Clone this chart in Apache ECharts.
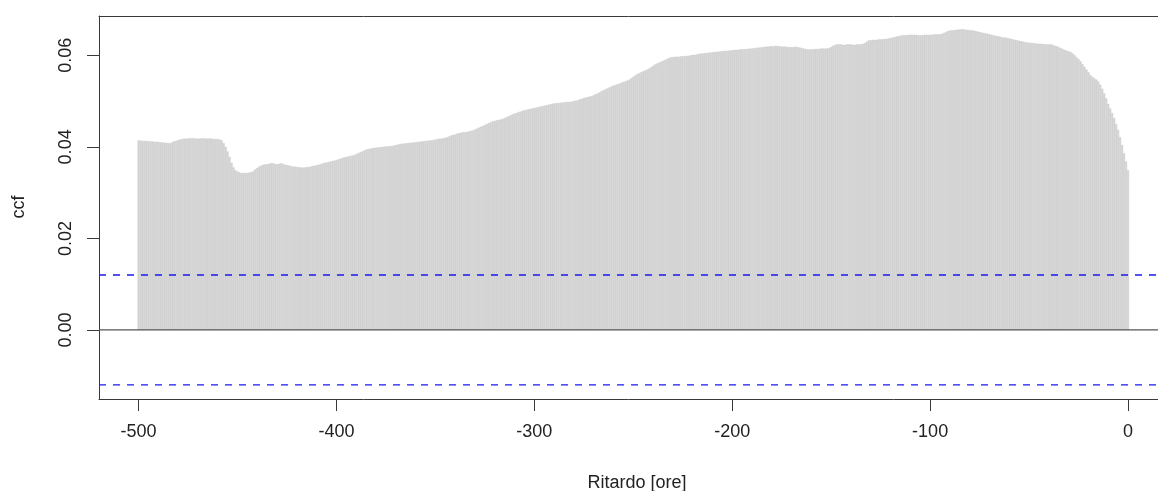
<!DOCTYPE html>
<html>
<head>
<meta charset="utf-8">
<script src="https://cdn.jsdelivr.net/npm/echarts@6/dist/echarts.min.js"></script>
<style>
  html, body { margin: 0; padding: 0; background: #fff; }
  #ccfChart { width: 1158px; height: 491px; }
</style>
</head>
<body>
<div id="ccfChart"></div>
<script>
// valori ccf, ritardi da -500 a 0
var ccfValues = [
  0.0414, 0.0414, 0.0413, 0.0413, 0.0413, 0.0412, 0.0412, 0.0412, 0.0411, 0.0411,
  0.0411, 0.0410, 0.0410, 0.0409, 0.0409, 0.0408, 0.0408, 0.0410, 0.0412, 0.0413,
  0.0415, 0.0416, 0.0417, 0.0418, 0.0418, 0.0418, 0.0419, 0.0419, 0.0419, 0.0418,
  0.0418, 0.0418, 0.0419, 0.0419, 0.0418, 0.0418, 0.0418, 0.0418, 0.0417, 0.0417,
  0.0417, 0.0416, 0.0414, 0.0408, 0.0400, 0.0390, 0.0378, 0.0365, 0.0355, 0.0349,
  0.0346, 0.0344, 0.0343, 0.0343, 0.0343, 0.0343, 0.0344, 0.0345, 0.0347, 0.0351,
  0.0354, 0.0357, 0.0359, 0.0361, 0.0362, 0.0362, 0.0363, 0.0364, 0.0364, 0.0363,
  0.0362, 0.0363, 0.0364, 0.0363, 0.0361, 0.0360, 0.0359, 0.0358, 0.0357, 0.0357,
  0.0356, 0.0356, 0.0355, 0.0355, 0.0355, 0.0356, 0.0356, 0.0357, 0.0358, 0.0359,
  0.0360, 0.0361, 0.0362, 0.0364, 0.0365, 0.0366, 0.0367, 0.0368, 0.0369, 0.0370,
  0.0371, 0.0373, 0.0374, 0.0376, 0.0377, 0.0378, 0.0379, 0.0380, 0.0381, 0.0382,
  0.0384, 0.0386, 0.0388, 0.0390, 0.0392, 0.0394, 0.0395, 0.0396, 0.0397, 0.0398,
  0.0398, 0.0399, 0.0399, 0.0400, 0.0400, 0.0401, 0.0401, 0.0402, 0.0402, 0.0403,
  0.0404, 0.0405, 0.0406, 0.0407, 0.0407, 0.0408, 0.0408, 0.0409, 0.0409, 0.0410,
  0.0410, 0.0411, 0.0411, 0.0412, 0.0412, 0.0413, 0.0413, 0.0414, 0.0414, 0.0415,
  0.0416, 0.0417, 0.0418, 0.0418, 0.0419, 0.0420, 0.0421, 0.0423, 0.0425, 0.0426,
  0.0427, 0.0429, 0.0430, 0.0431, 0.0432, 0.0432, 0.0433, 0.0434, 0.0435, 0.0436,
  0.0438, 0.0440, 0.0442, 0.0444, 0.0446, 0.0448, 0.0450, 0.0452, 0.0454, 0.0456,
  0.0457, 0.0458, 0.0459, 0.0460, 0.0461, 0.0463, 0.0465, 0.0467, 0.0469, 0.0471,
  0.0473, 0.0474, 0.0476, 0.0477, 0.0479, 0.0480, 0.0481, 0.0482, 0.0483, 0.0484,
  0.0485, 0.0486, 0.0487, 0.0488, 0.0489, 0.0490, 0.0491, 0.0492, 0.0493, 0.0494,
  0.0495, 0.0495, 0.0496, 0.0496, 0.0497, 0.0497, 0.0498, 0.0498, 0.0498, 0.0499,
  0.0500, 0.0501, 0.0502, 0.0504, 0.0505, 0.0507, 0.0508, 0.0509, 0.0510, 0.0511,
  0.0513, 0.0515, 0.0517, 0.0519, 0.0522, 0.0524, 0.0526, 0.0528, 0.0530, 0.0532,
  0.0534, 0.0535, 0.0537, 0.0538, 0.0540, 0.0542, 0.0543, 0.0545, 0.0547, 0.0550,
  0.0553, 0.0556, 0.0559, 0.0561, 0.0563, 0.0565, 0.0567, 0.0569, 0.0571, 0.0574,
  0.0577, 0.0580, 0.0582, 0.0584, 0.0586, 0.0588, 0.0590, 0.0592, 0.0594, 0.0596,
  0.0596, 0.0597, 0.0597, 0.0597, 0.0598, 0.0598, 0.0598, 0.0599, 0.0599, 0.0600,
  0.0601, 0.0601, 0.0602, 0.0603, 0.0604, 0.0604, 0.0605, 0.0605, 0.0606, 0.0606,
  0.0607, 0.0607, 0.0608, 0.0608, 0.0609, 0.0609, 0.0610, 0.0610, 0.0610, 0.0611,
  0.0611, 0.0612, 0.0612, 0.0612, 0.0613, 0.0613, 0.0613, 0.0614, 0.0614, 0.0615,
  0.0615, 0.0616, 0.0616, 0.0617, 0.0617, 0.0618, 0.0618, 0.0619, 0.0619, 0.0620,
  0.0620, 0.0620, 0.0621, 0.0620, 0.0620, 0.0619, 0.0619, 0.0619, 0.0618, 0.0618,
  0.0618, 0.0618, 0.0619, 0.0618, 0.0617, 0.0616, 0.0615, 0.0614, 0.0613, 0.0613,
  0.0613, 0.0613, 0.0614, 0.0614, 0.0614, 0.0615, 0.0615, 0.0615, 0.0615, 0.0616,
  0.0618, 0.0621, 0.0623, 0.0624, 0.0624, 0.0624, 0.0623, 0.0623, 0.0624, 0.0624,
  0.0624, 0.0623, 0.0623, 0.0624, 0.0624, 0.0624, 0.0625, 0.0627, 0.0630, 0.0633,
  0.0633, 0.0634, 0.0634, 0.0634, 0.0635, 0.0635, 0.0635, 0.0636, 0.0636, 0.0637,
  0.0638, 0.0639, 0.0640, 0.0641, 0.0642, 0.0643, 0.0644, 0.0644, 0.0644, 0.0645,
  0.0645, 0.0645, 0.0645, 0.0645, 0.0644, 0.0644, 0.0644, 0.0645, 0.0645, 0.0645,
  0.0645, 0.0645, 0.0646, 0.0646, 0.0646, 0.0646, 0.0647, 0.0649, 0.0651, 0.0653,
  0.0654, 0.0655, 0.0655, 0.0656, 0.0656, 0.0657, 0.0657, 0.0657, 0.0656, 0.0656,
  0.0655, 0.0655, 0.0654, 0.0653, 0.0652, 0.0651, 0.0650, 0.0649, 0.0648, 0.0647,
  0.0646, 0.0645, 0.0644, 0.0643, 0.0642, 0.0641, 0.0640, 0.0639, 0.0639, 0.0638,
  0.0637, 0.0636, 0.0635, 0.0634, 0.0633, 0.0632, 0.0631, 0.0630, 0.0629, 0.0628,
  0.0628, 0.0627, 0.0627, 0.0626, 0.0626, 0.0625, 0.0625, 0.0625, 0.0624, 0.0624,
  0.0624, 0.0624, 0.0623, 0.0621, 0.0620, 0.0618, 0.0616, 0.0614, 0.0612, 0.0610,
  0.0609, 0.0607, 0.0604, 0.0600, 0.0596, 0.0592, 0.0587, 0.0581, 0.0575, 0.0569,
  0.0563, 0.0557, 0.0553, 0.0550, 0.0547, 0.0543, 0.0536, 0.0527, 0.0517, 0.0506,
  0.0494, 0.0484, 0.0474, 0.0463, 0.0450, 0.0437, 0.0421, 0.0404, 0.0386, 0.0368, 0.0349
];
var firstLag = -500;
var xTicks = [-500, -400, -300, -200, -100, 0];
var yTicks = [0, 0.02, 0.04, 0.06];
var ciLimit = 0.012;
var xMin = -520, xMax = 15.15;

var seriesData = [];
for (var i = 0; i < ccfValues.length; i++) {
  seriesData.push([firstLag + i, ccfValues[i]]);
}

// linee orizzontali su tutta la larghezza del pannello
function hLine(y, style) {
  return {
    type: 'line',
    data: [[xMin, y], [xMax, y]],
    showSymbol: false,
    silent: true,
    z: 3,
    lineStyle: style,
    emphasis: { disabled: true }
  };
}

var font = 'Liberation Sans, Arial, sans-serif';
var blueDash = { color: '#1a1aee', type: [7, 7], width: 1.3, opacity: 1 };
var chart = echarts.init(document.getElementById('ccfChart'));
chart.setOption({
  animation: false,
  grid: { left: 99, right: 0, top: 16, bottom: 92 },
  xAxis: [
    {
      type: 'value',
      min: xMin,
      max: xMax,
      axisLine: { show: true, onZero: false, lineStyle: { color: '#3a3a3a', width: 1 } },
      axisTick: { show: true, length: 12, customValues: xTicks, lineStyle: { color: '#3a3a3a' } },
      axisLabel: { customValues: xTicks, margin: 24, fontSize: 18, color: '#222', fontFamily: font },
      splitLine: { show: false }
    },
    {
      type: 'value',
      position: 'top',
      min: xMin,
      max: xMax,
      axisLine: { show: true, onZero: false, lineStyle: { color: '#3a3a3a', width: 1 } },
      axisTick: { show: false },
      axisLabel: { show: false },
      splitLine: { show: false }
    }
  ],
  yAxis: {
    type: 'value',
    min: -0.0151,
    max: 0.0686,
    axisLine: { show: true, onZero: false, lineStyle: { color: '#3a3a3a', width: 1 } },
    axisTick: { show: true, length: 12, customValues: yTicks, lineStyle: { color: '#3a3a3a' } },
    axisLabel: {
      customValues: yTicks,
      rotate: 90,
      margin: 24,
      fontSize: 18,
      color: '#222',
      fontFamily: font,
      formatter: function (v) { return v.toFixed(2); }
    },
    splitLine: { show: false }
  },
  graphic: [
    { type: 'text', x: 637, y: 483, style: { text: 'Ritardo [ore]', font: '18px ' + font, fill: '#222', textAlign: 'center', textVerticalAlign: 'middle' } },
    { type: 'text', x: 19, y: 207, rotation: Math.PI / 2, style: { text: 'ccf', font: '18px ' + font, fill: '#222', textAlign: 'center', textVerticalAlign: 'middle' } }
  ],
  series: [
    {
      name: 'ccf',
      type: 'bar',
      data: seriesData,
      barWidth: 2,
      itemStyle: { color: '#d6d6d6', borderColor: '#c6c6c6', borderWidth: 0.4 },
      silent: true
    },
    hLine(0, { color: '#555', type: 'solid', width: 1.2 }),
    hLine(ciLimit, blueDash),
    hLine(-ciLimit, blueDash)
  ]
});
</script>
</body>
</html>
